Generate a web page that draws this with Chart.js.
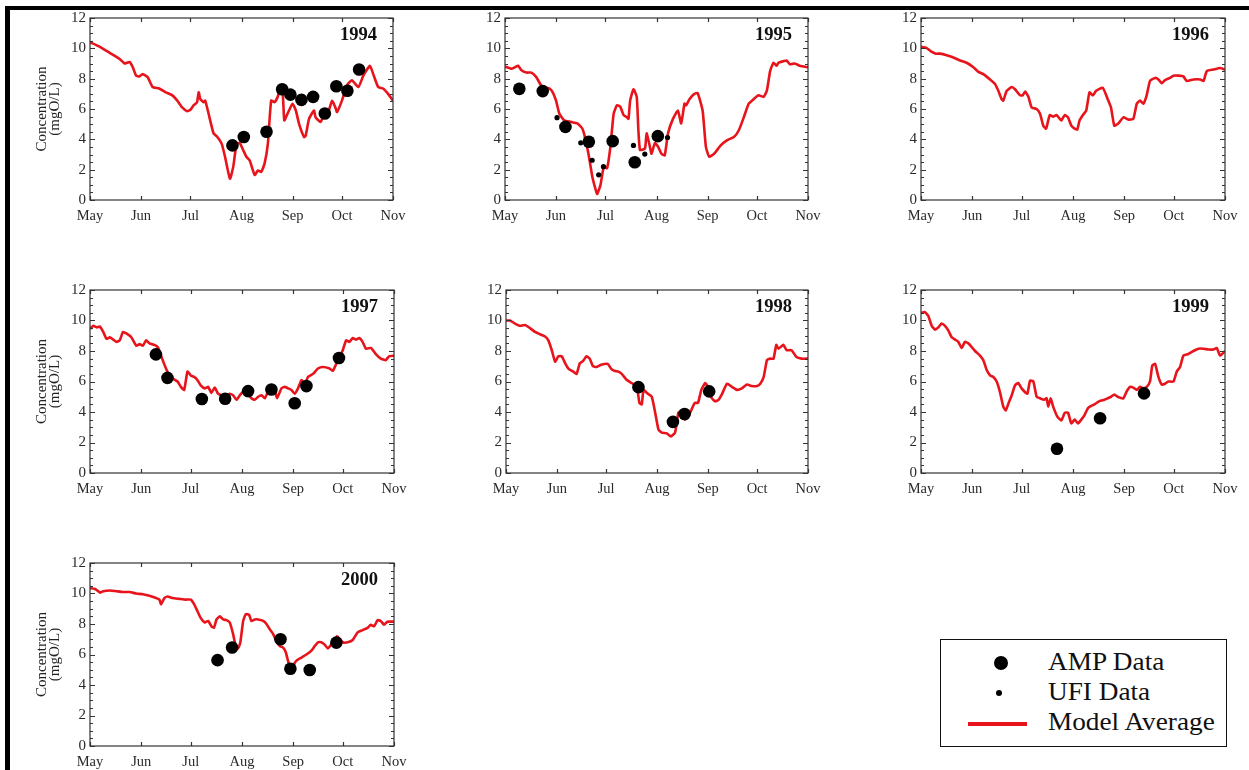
<!DOCTYPE html>
<html>
<head>
<meta charset="utf-8">
<title>Dissolved oxygen, May–November</title>
<script src="https://cdn.jsdelivr.net/npm/chart.js@4.4.1/dist/chart.umd.min.js"></script>
<style>
  html, body { margin: 0; padding: 0; background: #fff; }
  body { position: relative; width: 1249px; height: 770px; overflow: hidden; font-family: "Liberation Serif", "Times New Roman", serif; }
  canvas.panel { position: absolute; }
  #frame { position: absolute; left: 5px; top: 6px; width: 1400px; height: 900px; border-top: 4px solid #000; border-left: 5px solid #000; pointer-events: none; z-index: 5; }
  #legend { position: absolute; left: 940px; top: 639px; width: 287px; height: 108px; box-sizing: border-box; border: 1.5px solid #111; background: #fff; }
  #legend .mark { position: absolute; }
  #legend .big { left: 53px; top: 16px; width: 14px; height: 14px; border-radius: 50%; background: #000; }
  #legend .small { left: 55px; top: 50px; width: 6px; height: 6px; border-radius: 50%; background: #000; }
  #legend .line { left: 27px; top: 82px; width: 59px; height: 4px; background: #e8141c; }
  #legend .txt { position: absolute; left: 107px; height: 30px; line-height: 30px; font-size: 25px; color: #111; white-space: nowrap; transform: scaleX(1.09); transform-origin: 0 50%; }
</style>
</head>
<body>
<div id="frame"></div>
<div id="legend">
  <span class="mark big"></span><span class="txt" style="top:7px">AMP Data</span>
  <span class="mark small"></span><span class="txt" style="top:37px">UFI Data</span>
  <span class="mark line"></span><span class="txt" style="top:67px">Model Average</span>
</div>
<script>
// Days counted from 1 May; month starts used for the x axis.
const MONTH_DAYS = [0, 31, 61, 92, 123, 153, 184];
const MONTH_NAMES = ['May', 'Jun', 'Jul', 'Aug', 'Sep', 'Oct', 'Nov'];
const Y_TICKS = [0, 2, 4, 6, 8, 10, 12];

// Model average, [day, mgO/L]
const model1994 = [[0,10.4],[6,10.1],[12,9.7],[18,9.3],[21,9.0],[24,9.1],[26,8.75],[28,8.2],[30,8.15],[32,8.3],[35,8.1],[38,7.45],[42,7.35],[46,7.1],[50,6.9],[53,6.55],[56,6.1],[59,5.85],[61,5.95],[63,6.25],[65,6.45],[66,7.1],[67,6.65],[69,6.45],[70,6.55],[72,5.7],[75,4.4],[77,4.2],[80,3.7],[82,2.85],[85,1.4],[87,2.2],[89,3.7],[91,3.75],[93,3.3],[95,2.85],[97,2.6],[100,1.65],[102,1.95],[104,1.85],[106,2.4],[108,3.7],[110,6.55],[112,6.45],[114,6.8],[115,7.2],[117,7.0],[118,5.25],[120,5.7],[123,6.35],[125,5.9],[127,5.0],[130,4.15],[131,4.25],[133,5.35],[136,5.9],[137,5.45],[140,5.15],[142,5.6],[145,5.9],[147,6.55],[149,6.1],[150,5.8],[153,6.55],[156,7.55],[159,7.9],[163,7.45],[166,8.2],[170,8.85],[172,8.3],[175,7.45],[178,7.35],[181,7.0],[184,6.55]];
const model1995 = [[0,8.8],[4,8.65],[6,8.75],[8,8.85],[10,8.55],[13,8.4],[16,8.4],[19,8.1],[22,7.55],[25,7.4],[27,7.35],[29,7.1],[31,6.55],[33,5.7],[36,5.25],[40,5.15],[44,5.05],[47,4.7],[49,3.95],[51,2.85],[53,1.55],[55,0.7],[56,0.4],[58,1.0],[60,2.2],[62,2.1],[64,3.5],[66,5.7],[68,6.25],[70,6.15],[72,5.6],[74,5.45],[75,5.35],[76,6.55],[78,7.3],[80,6.8],[81,4.6],[82,3.3],[85,3.4],[86,4.4],[88,3.5],[89,3.05],[91,3.75],[93,3.5],[95,3.05],[97,2.95],[99,4.4],[102,5.35],[105,5.9],[107,5.05],[109,6.35],[110,6.25],[112,6.65],[115,7.0],[117,7.05],[120,5.9],[122,3.5],[124,2.85],[127,3.05],[131,3.6],[135,3.95],[139,4.15],[142,4.6],[145,5.45],[148,6.35],[151,6.65],[154,6.9],[157,6.8],[159,7.2],[161,8.5],[163,9.05],[165,8.85],[166,9.05],[169,9.15],[171,9.2],[173,8.95],[176,9.0],[179,8.85],[184,8.75]];
const model1996 = [[0,10.1],[3,10.05],[6,9.8],[9,9.65],[11.5,9.65],[15.5,9.55],[19.6,9.4],[23.6,9.2],[27.6,9.05],[31.7,8.75],[34.7,8.45],[37.7,8.3],[41.8,7.95],[44.8,7.65],[46.8,7.2],[48.8,6.65],[49.8,6.55],[51.9,7.2],[54.9,7.45],[56.9,7.3],[59.9,6.9],[61.5,6.9],[63,7.15],[65,6.8],[67,6.1],[70,6.0],[72,5.7],[74,4.9],[75.7,4.7],[77,5.25],[78,5.6],[80,5.5],[82,5.6],[84,5.35],[85,5.25],[87,5.6],[89,5.45],[91,4.9],[93,4.7],[94.6,4.65],[96,5.25],[98,5.6],[100,5.9],[102,7.1],[104,6.9],[106,7.2],[110,7.4],[113,6.65],[115,6.1],[117,4.9],[119.5,5.05],[122.5,5.45],[125.5,5.3],[128.5,5.35],[130.6,6.35],[132.6,6.55],[134.6,6.35],[136.6,6.9],[138.6,7.85],[141.7,8.05],[143.7,7.95],[145.7,7.7],[147.7,7.9],[150.7,8.05],[152.8,8.2],[155.8,8.2],[158.8,8.15],[160.8,7.85],[164.9,7.95],[169,7.95],[171,7.85],[173,8.5],[177,8.6],[181,8.7],[184,8.6]];
const model1997 = [[0,9.45],[2,9.65],[4,9.55],[6,9.6],[8,9.25],[10,8.8],[12,8.9],[14,8.75],[16,8.6],[18,8.7],[20,9.25],[22,9.15],[25,8.9],[28,8.35],[30,8.45],[32,8.35],[34,8.7],[36,8.5],[39,8.4],[41,8.25],[42,8.0],[44,7.4],[46,6.85],[48,6.4],[50,6.2],[53,6.0],[55,5.65],[57,5.45],[59,6.65],[61,6.4],[63,6.3],[65,6.1],[67,5.75],[69.5,5.55],[71.5,5.65],[73.5,5.25],[75.5,5.6],[77.5,5.2],[79.6,5.1],[81.6,5.0],[84.6,5.2],[86.6,5.1],[88.7,4.8],[90.7,5.1],[93.7,5.45],[95.7,5.2],[97.7,4.9],[99.7,4.8],[101.8,5.0],[103.8,5.1],[105.8,4.9],[107.8,5.35],[109.8,5.65],[111.8,5.45],[113.2,4.9],[115.9,5.55],[117.9,5.65],[119.9,5.55],[121.9,5.45],[123.9,5.2],[125.9,5.55],[128,6.1],[130,5.85],[132,6.3],[135,6.5],[138,6.85],[141,6.95],[145,6.85],[147,6.7],[149,7.15],[151,7.6],[153,8.05],[155,8.7],[157,8.6],[159,8.85],[161,8.75],[163,8.85],[165,8.6],[167,8.15],[170,8.2],[173,7.8],[176,7.5],[179,7.4],[181,7.65],[184,7.7]];
const model1998 = [[0,10.0],[2.4,10.0],[5.5,9.8],[8.5,9.65],[11.6,9.7],[14.6,9.5],[17.7,9.25],[20.7,9.1],[23.8,8.95],[25.8,8.7],[27.9,8.05],[29.9,7.3],[31.9,7.65],[34,7.65],[36,7.2],[38,6.85],[41,6.65],[43,6.5],[45,7.2],[47,7.35],[49,7.65],[51,7.5],[53,7.0],[55,6.95],[58,7.1],[62,7.15],[64,6.85],[66,6.7],[68.5,6.65],[70.5,6.5],[73.6,6.1],[76.6,5.9],[79.7,5.65],[81.3,4.6],[82.7,4.5],[83.8,5.45],[85.8,5.25],[88.8,5.0],[90.9,3.95],[92.9,2.85],[94.9,2.65],[98,2.6],[100.4,2.4],[103,2.65],[105,3.95],[107,4.05],[109,3.5],[111,3.7],[113,4.15],[115,4.6],[117,4.6],[119,5.45],[121.4,5.9],[123.4,5.55],[125.4,4.9],[127.5,4.7],[129.5,4.8],[131.5,5.15],[134.6,5.85],[137.6,5.65],[140.7,5.45],[143.7,5.55],[146.8,5.8],[149.8,5.7],[152.9,5.7],[154.9,5.85],[157,6.3],[159,7.4],[161,7.5],[163,7.5],[164.7,8.4],[166,8.15],[169,8.4],[171,8.05],[174,8.05],[177,7.6],[180,7.5],[184,7.5]];
const model1999 = [[0,10.5],[2.4,10.55],[4.4,10.3],[6.5,9.65],[8.5,9.4],[10.5,9.55],[12.5,9.8],[14.5,9.65],[16.5,9.35],[18.6,8.9],[20.6,8.75],[22.6,8.6],[24.6,8.2],[26.6,8.6],[28.7,8.5],[30.7,8.25],[32.7,8.0],[35.7,7.7],[37.7,7.4],[39.8,6.75],[41.8,6.4],[43.8,6.3],[45.8,6.0],[47.8,5.3],[49.8,4.35],[51.3,4.1],[52.9,4.55],[54.9,5.1],[56.9,5.75],[58.9,5.9],[60.9,5.55],[63,5.3],[64.4,5.2],[66,6.05],[68,6.0],[70,5.0],[72,4.9],[74.5,4.8],[76,4.9],[77,4.35],[78.5,4.9],[80,4.35],[82.5,3.7],[85,3.45],[87,3.95],[89,3.95],[91,3.25],[93,3.5],[95,3.25],[97,3.5],[99,3.8],[101,4.25],[103,4.4],[105,4.5],[107,4.65],[109,4.75],[111,4.8],[113,4.9],[115,5.0],[117,5.15],[119,5.0],[122.5,4.9],[124.5,5.35],[126.5,5.65],[128.5,5.6],[130.6,5.45],[132.6,5.65],[134.6,5.55],[136.6,5.65],[138.6,6.0],[140,7.05],[141.7,7.15],[143.7,6.3],[145.7,5.8],[147.7,5.85],[149.7,6.0],[152.8,6.0],[154.8,6.65],[156.8,6.95],[158.8,7.7],[161.8,7.8],[164.9,8.0],[167.9,8.15],[170.9,8.15],[174,8.1],[177,8.1],[179,8.2],[181,7.7],[184,8.0]];
const model2000 = [[0,10.35],[3,10.3],[5,10.15],[6,10.05],[8,10.15],[12,10.2],[16,10.15],[20,10.1],[24,10.1],[28,10.0],[32,9.95],[36,9.85],[40,9.7],[42,9.6],[43,9.3],[45,9.7],[47,9.8],[50,9.7],[54,9.65],[58,9.6],[61,9.6],[63,9.3],[65,8.85],[67,8.4],[69.5,8.1],[71.5,8.2],[73.5,7.85],[75,7.75],[76.6,8.3],[78.6,8.5],[80.6,8.3],[82.6,8.25],[84.6,8.1],[86.6,7.35],[88,6.65],[89.7,6.4],[91,6.8],[92.7,8.2],[94.3,8.65],[96.3,8.6],[97.7,8.2],[99.7,8.3],[101.8,8.3],[104.8,8.2],[106.8,8.0],[108.8,7.65],[110.8,7.35],[112.8,6.9],[114.9,6.55],[116.9,6.45],[118.5,6.15],[120.5,5.35],[122.5,5.25],[125,5.6],[128,5.8],[131,6.0],[134,6.25],[136,6.55],[138,6.8],[140,6.8],[142,6.65],[144,6.4],[146,6.65],[148,6.9],[149.5,7.2],[151,7.05],[153,6.8],[156,6.8],[159,6.95],[162,7.45],[165,7.6],[168,7.75],[170,7.95],[172,7.85],[174,8.25],[176,8.2],[178,7.95],[180,8.15],[184,8.15]];

// AMP samples, [day, mgO/L]
const amp1994 = [[86.5,3.6],[93.4,4.15],[107.2,4.5],[116.7,7.3],[121.7,6.95],[128.4,6.6],[135.5,6.8],[142.6,5.7],[149.6,7.5],[156.3,7.2],[163.4,8.6]];
const amp1995 = [[8.7,7.33],[22.9,7.18],[36.7,4.82],[50.9,3.84],[65.4,3.88],[78.8,2.49],[92.8,4.21]];
const amp1996 = [];
const amp1997 = [[39.9,7.78],[46.9,6.24],[67.7,4.85],[81.8,4.87],[95.7,5.37],[109.8,5.48],[123.9,4.57],[131,5.7],[150.7,7.54]];
const amp1998 = [[80.7,5.63],[101.7,3.35],[108.8,3.87],[123.8,5.35]];
const amp1999 = [[82.3,1.59],[108.4,3.59],[135,5.22]];
const amp2000 = [[77.2,5.63],[86,6.46],[115.3,7.0],[121.3,5.07],[133,4.98],[149.1,6.78]];

// UFI samples, [day, mgO/L]
const ufi1995 = [[31.6,5.43],[46.0,3.77],[52.9,2.62],[56.9,1.66],[59.8,2.2],[78.0,3.6],[84.9,3.03],[98.7,4.12]];

const YEARS = ['1994', '1995', '1996', '1997', '1998', '1999', '2000'];
const MODEL = [model1994, model1995, model1996, model1997, model1998, model1999, model2000];
const AMP = [amp1994, amp1995, amp1996, amp1997, amp1998, amp1999, amp2000];
const UFI = [[], ufi1995, [], [], [], [], []];

// Plot-area rectangles for the seven panels (left, top, width, height).
const PANEL_BOXES = [
  [90, 17, 303, 183], [505, 17, 303, 183], [921, 17, 304, 183],
  [90, 289, 304, 184], [506, 289, 302, 184], [921, 289, 304, 184],
  [90, 562, 304, 184]
];
const LEFT_COLUMN = [true, false, false, true, false, false, true];

const AXIS_W = 90, PAD_TOP = 12, PAD_RIGHT = 24, AXIS_H = 30;
const RED = '#e8141c';
const SERIF = '"Liberation Serif", "Times New Roman", serif';

const toXY = arr => arr.map(([d, v]) => ({ x: d, y: v }));

// Box, inward tick marks and the year caption of each panel.
const panelFrame = {
  id: 'panelFrame',
  afterDatasetsDraw(chart, args, opts) {
    const { ctx, chartArea: a, scales: { x, y } } = chart;
    ctx.save();
    ctx.strokeStyle = '#333';
    ctx.lineWidth = 1.2;
    ctx.strokeRect(a.left, a.top, a.right - a.left, a.bottom - a.top);
    ctx.beginPath();
    for (let v = 0; v <= 12; v += 0.5) {
      const py = Math.round(y.getPixelForValue(v)) + 0.5;
      const len = (v % 2 === 0) ? 5 : 3;
      ctx.moveTo(a.left, py); ctx.lineTo(a.left + len, py);
      ctx.moveTo(a.right, py); ctx.lineTo(a.right - len, py);
    }
    for (const d of MONTH_DAYS) {
      const px = Math.round(x.getPixelForValue(d)) + 0.5;
      ctx.moveTo(px, a.bottom); ctx.lineTo(px, a.bottom - 4);
      ctx.moveTo(px, a.top); ctx.lineTo(px, a.top + 4);
    }
    ctx.stroke();
    ctx.font = 'bold 18.5px ' + SERIF;
    ctx.fillStyle = '#111';
    ctx.textAlign = 'right';
    ctx.textBaseline = 'middle';
    ctx.fillText(opts.year, a.right - 16, a.top + 17);
    ctx.restore();
  }
};

YEARS.forEach((year, i) => {
  const [px, py, pw, ph] = PANEL_BOXES[i];
  const canvas = document.createElement('canvas');
  canvas.className = 'panel';
  canvas.width = pw + AXIS_W + PAD_RIGHT;
  canvas.height = ph + PAD_TOP + AXIS_H;
  canvas.style.left = (px - AXIS_W) + 'px';
  canvas.style.top = (py - PAD_TOP) + 'px';
  document.body.appendChild(canvas);

  new Chart(canvas, {
    type: 'line',
    data: {
      datasets: [
        { label: 'AMP Data', type: 'scatter', data: toXY(AMP[i]), showLine: false,
          pointRadius: 6.3, pointBackgroundColor: '#000', pointBorderWidth: 0, order: 0 },
        { label: 'UFI Data', type: 'scatter', data: toXY(UFI[i]), showLine: false,
          pointRadius: 2.6, pointBackgroundColor: '#000', pointBorderWidth: 0, order: 0 },
        { label: 'Model Average', data: toXY(MODEL[i]), borderColor: RED, borderWidth: 2.6,
          pointRadius: 0, tension: 0.15, fill: false, order: 1 }
      ]
    },
    options: {
      responsive: false,
      animation: false,
      devicePixelRatio: 1,
      events: [],
      layout: { padding: { left: 0, top: PAD_TOP, right: PAD_RIGHT, bottom: 0 } },
      plugins: { legend: { display: false }, tooltip: { enabled: false }, panelFrame: { year } },
      scales: {
        x: {
          type: 'linear', min: 0, max: 184,
          afterBuildTicks: s => { s.ticks = MONTH_DAYS.map(v => ({ value: v })); },
          afterFit: s => { s.height = AXIS_H; },
          grid: { display: false, drawTicks: false },
          border: { display: false },
          ticks: {
            autoSkip: false, maxRotation: 0, padding: 7, color: '#2a2a2a',
            font: { family: SERIF, size: 14.5 },
            callback: v => MONTH_NAMES[MONTH_DAYS.indexOf(v)]
          }
        },
        y: {
          type: 'linear', min: 0, max: 12,
          afterBuildTicks: s => { s.ticks = Y_TICKS.map(v => ({ value: v })); },
          afterFit: s => { s.width = AXIS_W; },
          grid: { display: false, drawTicks: false },
          border: { display: false },
          ticks: { padding: 4, color: '#2a2a2a', font: { family: SERIF, size: 15 } },
          title: {
            display: LEFT_COLUMN[i],
            text: ['Concentration', '(mgO/L)'],
            color: '#222',
            font: { family: SERIF, size: 15, lineHeight: 0.85 },
            padding: { top: 36, bottom: 0 }
          }
        }
      }
    },
    plugins: [panelFrame]
  });
});
</script>
</body>
</html>
